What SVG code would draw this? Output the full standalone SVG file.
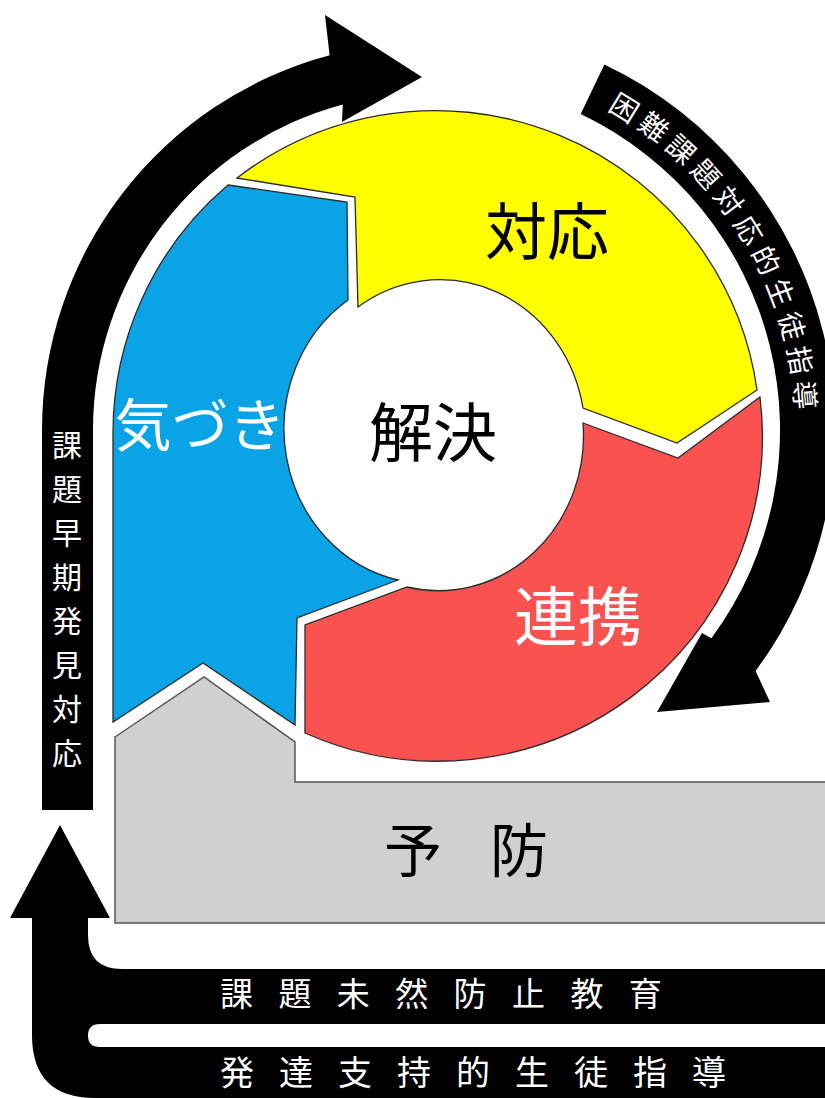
<svg xmlns="http://www.w3.org/2000/svg" width="825" height="1098" viewBox="0 0 825 1098">
<defs>
<style>
text{font-family:"Noto Sans CJK JP","Noto Sans",sans-serif}
.seg{stroke:#2a2a2a;stroke-width:1.3;stroke-linejoin:miter}
.blk{fill:#000}
.wt{fill:#fff}
.bt{fill:#000}
</style>
<path id="rtp" d="M 606.9,109.6 A 366 366 0 0 1 747,613"/>
</defs>
<rect width="825" height="1098" fill="#fff"/>
<g id="connectors">
<path class="blk" d="M 42,810 L 42,430 A 388 388 0 0 1 329.6,55.2 L 325,15 L 422,77 L 342,122 L 342.8,104.5 A 337 337 0 0 0 93,430 L 93,810 Z"/>
<path class="blk" d="M 604.4,64.4 A 405 405 0 0 1 755.6,670.9 L 770,702 L 657,712 L 702,633 L 711.4,638.2 A 350 350 0 0 0 580.7,114.1 Z"/>
<path class="blk" d="M 60,825 L 110,918 L 88,918 L 88,935 Q 88,969 122,969 L 825,969 L 825,1024 L 100,1024 Q 88,1024 88,1035.5 Q 88,1047 100,1047 L 825,1047 L 825,1098 L 95,1098 Q 32,1098 32,1035 L 32,918 L 10,918 Z"/>
</g>
<g id="node-yellow">
<path class="seg" fill="#ffff00" d="M 237,178 A 325 325 0 0 1 757,390 L 677,443 L 583,408 A 145 155 0 0 0 358,307 L 355,197 Z"/>
<text class="bt" x="547" y="255" font-size="62" text-anchor="middle">対応</text>
</g>
<g id="node-red">
<path class="seg" fill="#fa5250" d="M 583,423 L 678,458 L 760,397 A 325 325 0 0 1 305,733 L 305,625 L 407,587 A 145 155 0 0 0 583,423 Z"/>
<text class="wt" x="578" y="640" font-size="64" text-anchor="middle">連携</text>
</g>
<g id="node-blue">
<path class="seg" fill="#0aa3e6" d="M 228,185 L 347,202 L 348,300 A 145 155 0 0 0 398,580 L 297,618 L 295,725 L 203,663 L 113,722 L 113,435 A 325 325 0 0 1 228,185 Z"/>
<text class="wt" x="200" y="446" font-size="57" text-anchor="middle">気づき</text>
</g>
<g id="node-center">
<text class="bt" x="433" y="456" font-size="64" text-anchor="middle">解決</text>
</g>
<g id="node-gray">
<path fill="#d0d0d0" stroke="#555" stroke-width="1.5" d="M 115,737 L 204,677 L 295,742 L 295,782 L 826,782 L 826,923 L 115,923 Z"/>
<text class="bt" x="384" y="872" font-size="58" letter-spacing="48">予防</text>
</g>
<g id="label-left">
<text class="wt" font-size="30" text-anchor="middle">
<tspan x="67" y="456">課</tspan><tspan x="67" y="500">題</tspan><tspan x="67" y="544">早</tspan><tspan x="67" y="588">期</tspan><tspan x="67" y="632">発</tspan><tspan x="67" y="676">見</tspan><tspan x="67" y="720">対</tspan><tspan x="67" y="764">応</tspan>
</text>
</g>
<g id="label-right">
<text class="wt" font-size="28" letter-spacing="6.2"><textPath href="#rtp">困難課題対応的生徒指導</textPath></text>
</g>
<g id="label-bottom">
<text class="wt" x="220" y="1006" font-size="33" letter-spacing="25.4">課題未然防止教育</text>
<text class="wt" x="220" y="1085" font-size="34" letter-spacing="25">発達支持的生徒指導</text>
</g>
</svg>
